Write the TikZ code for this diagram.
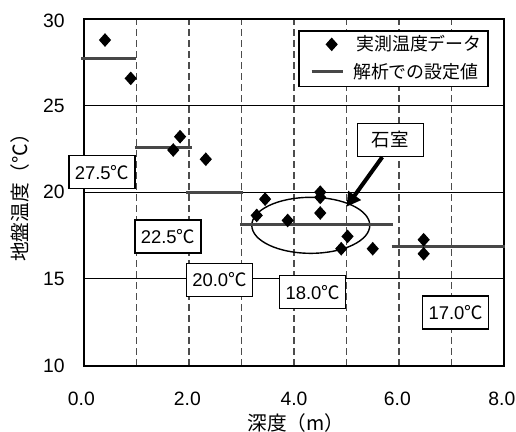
\documentclass[tikz,border=0pt]{standalone}
\usepackage{fontspec}
\setmainfont{Liberation Sans}
\newfontfamily\jp{Noto Sans CJK JP}
\usepackage{xcolor}
\usetikzlibrary{shapes.geometric, arrows.meta, positioning}

\begin{document}
\begin{tikzpicture}[x=1.05cm, y=0.347cm,
  pt/.style={diamond, fill=black, inner sep=0pt, minimum width=0.25cm, minimum height=0.28cm},
  setline/.style={line width=1.7pt, black!72},
  hgrid/.style={line width=0.5pt},
  vgrid/.style={line width=0.6pt, black!70, dash pattern=on 0.13cm off 0.09cm},
  tlabel/.style={draw, fill=white, line width=0.7pt, minimum width=1.32cm, minimum height=0.66cm, inner sep=0pt, font=\fontsize{10.5}{12}\selectfont},
  tick/.style={inner sep=0pt, font=\fontsize{11}{13}\selectfont}]
  \useasboundingbox (-1.6,6.179) rectangle (8.229,31.078);

  \draw[hgrid] (0,15) -- (8,15);
  \draw[hgrid] (0,20) -- (8,20);
  \draw[hgrid] (0,25) -- (8,25);
  \draw[vgrid] (1,10) -- (1,30);
  \draw[vgrid] (2,10) -- (2,30);
  \draw[vgrid] (3,10) -- (3,30);
  \draw[vgrid] (4,10) -- (4,30);
  \draw[vgrid] (5,10) -- (5,30);
  \draw[vgrid] (6,10) -- (6,30);
  \draw[vgrid] (7,10) -- (7,30);
  \draw[line width=1.2pt] (0,10) rectangle (8,30);

  \node[tick, anchor=east] (y10) at (-0.36,10) {10};
  \node[tick, anchor=east] (y15) at (-0.36,15) {15};
  \node[tick, anchor=east] (y20) at (-0.36,20) {20};
  \node[tick, anchor=east] (y25) at (-0.36,25) {25};
  \node[tick, anchor=east] (y30) at (-0.36,29.85) {30};
  \node[tick] (x0) at (-0.05,8.08) {0.0};
  \node[tick] (x2) at (1.97,8.08) {2.0};
  \node[tick] (x4) at (4,8.08) {4.0};
  \node[tick] (x6) at (5.97,8.08) {6.0};
  \node[tick] (x8) at (7.96,8.08) {8.0};
  \node[rotate=90, font=\jp\fontsize{11.2}{13}\selectfont] (ytitle) at (-1.22,19.95) {地盤温度（℃）};
  \node[font=\jp\fontsize{11.2}{13}\selectfont] (xtitle) at (4.04,6.72) {深度（m）};

  \node[ellipse, draw, line width=0.8pt, minimum width=2.36cm, minimum height=1.12cm, inner sep=0pt] (chamber) at (4.32,18.09) {};

  \draw[setline] (-0.06,27.68) -- (1,27.68);
  \draw[setline] (0.97,22.6) -- (2.05,22.6);
  \draw[setline] (1.94,20) -- (3.02,20);
  \draw[setline] (2.97,18.13) -- (5.89,18.13);
  \draw[setline] (5.86,16.85) -- (8.02,16.85);

  \node[pt] (p1) at (0.4,28.77) {};
  \node[pt] (p2) at (0.89,26.56) {};
  \node[pt] (p3) at (1.83,23.2) {};
  \node[pt] (p4) at (1.70,22.43) {};
  \node[pt] (p5) at (2.32,21.9) {};
  \node[pt] (p6) at (3.29,18.66) {};
  \node[pt] (p7) at (3.45,19.6) {};
  \node[pt] (p8) at (3.88,18.37) {};
  \node[pt] (p9) at (4.5,20.0) {};
  \node[pt] (p10) at (4.5,19.7) {};
  \node[pt] (p11) at (4.5,18.8) {};
  \node[pt] (p12) at (5.02,17.45) {};
  \node[pt] (p13) at (4.9,16.74) {};
  \node[pt] (p14) at (5.5,16.74) {};
  \node[pt] (p15) at (6.47,17.26) {};
  \node[pt] (p16) at (6.47,16.45) {};

  \node[tlabel] (t275) at (0.343,21.15) {27.5{\jp ℃}};
  \node[tlabel] (t225) at (1.6,17.44) {22.5{\jp ℃}};
  \node[tlabel] (t200) at (2.58,14.96) {20.0{\jp ℃}};
  \node[tlabel] (t180) at (4.358,14.23) {18.0{\jp ℃}};
  \node[tlabel] (t170) at (7.08,13.07) {17.0{\jp ℃}};

  \node[tlabel, font=\jp\fontsize{10.5}{12}\selectfont] (stone) at (5.834,23.01) {石室};
  \coordinate (tip) at (5.0,19.16);
  \draw[line width=2.3pt, -{Triangle[length=0.28cm, width=0.3cm]}] ([xshift=-0.16cm]stone.south) -- (tip);

  \node[draw, fill=white, line width=0.9pt, minimum width=3.785cm, minimum height=1.114cm] (legend) at (5.8975,27.685) {};
  \node[pt] (lgpt) at (4.718,28.52) {};
  \node[anchor=west, inner sep=0pt, font=\jp\fontsize{10.2}{12}\selectfont] (lgtxt1) at (5.18,28.54) {実測温度データ};
  \coordinate (lgA) at (4.337,26.95);
  \coordinate (lgB) at (4.939,26.95);
  \draw[setline] (lgA) -- (lgB);
  \node[anchor=west, inner sep=0pt, font=\jp\fontsize{10.2}{12}\selectfont] (lgtxt2) at (5.12,26.95) {解析での設定値};
\end{tikzpicture}
\end{document}
